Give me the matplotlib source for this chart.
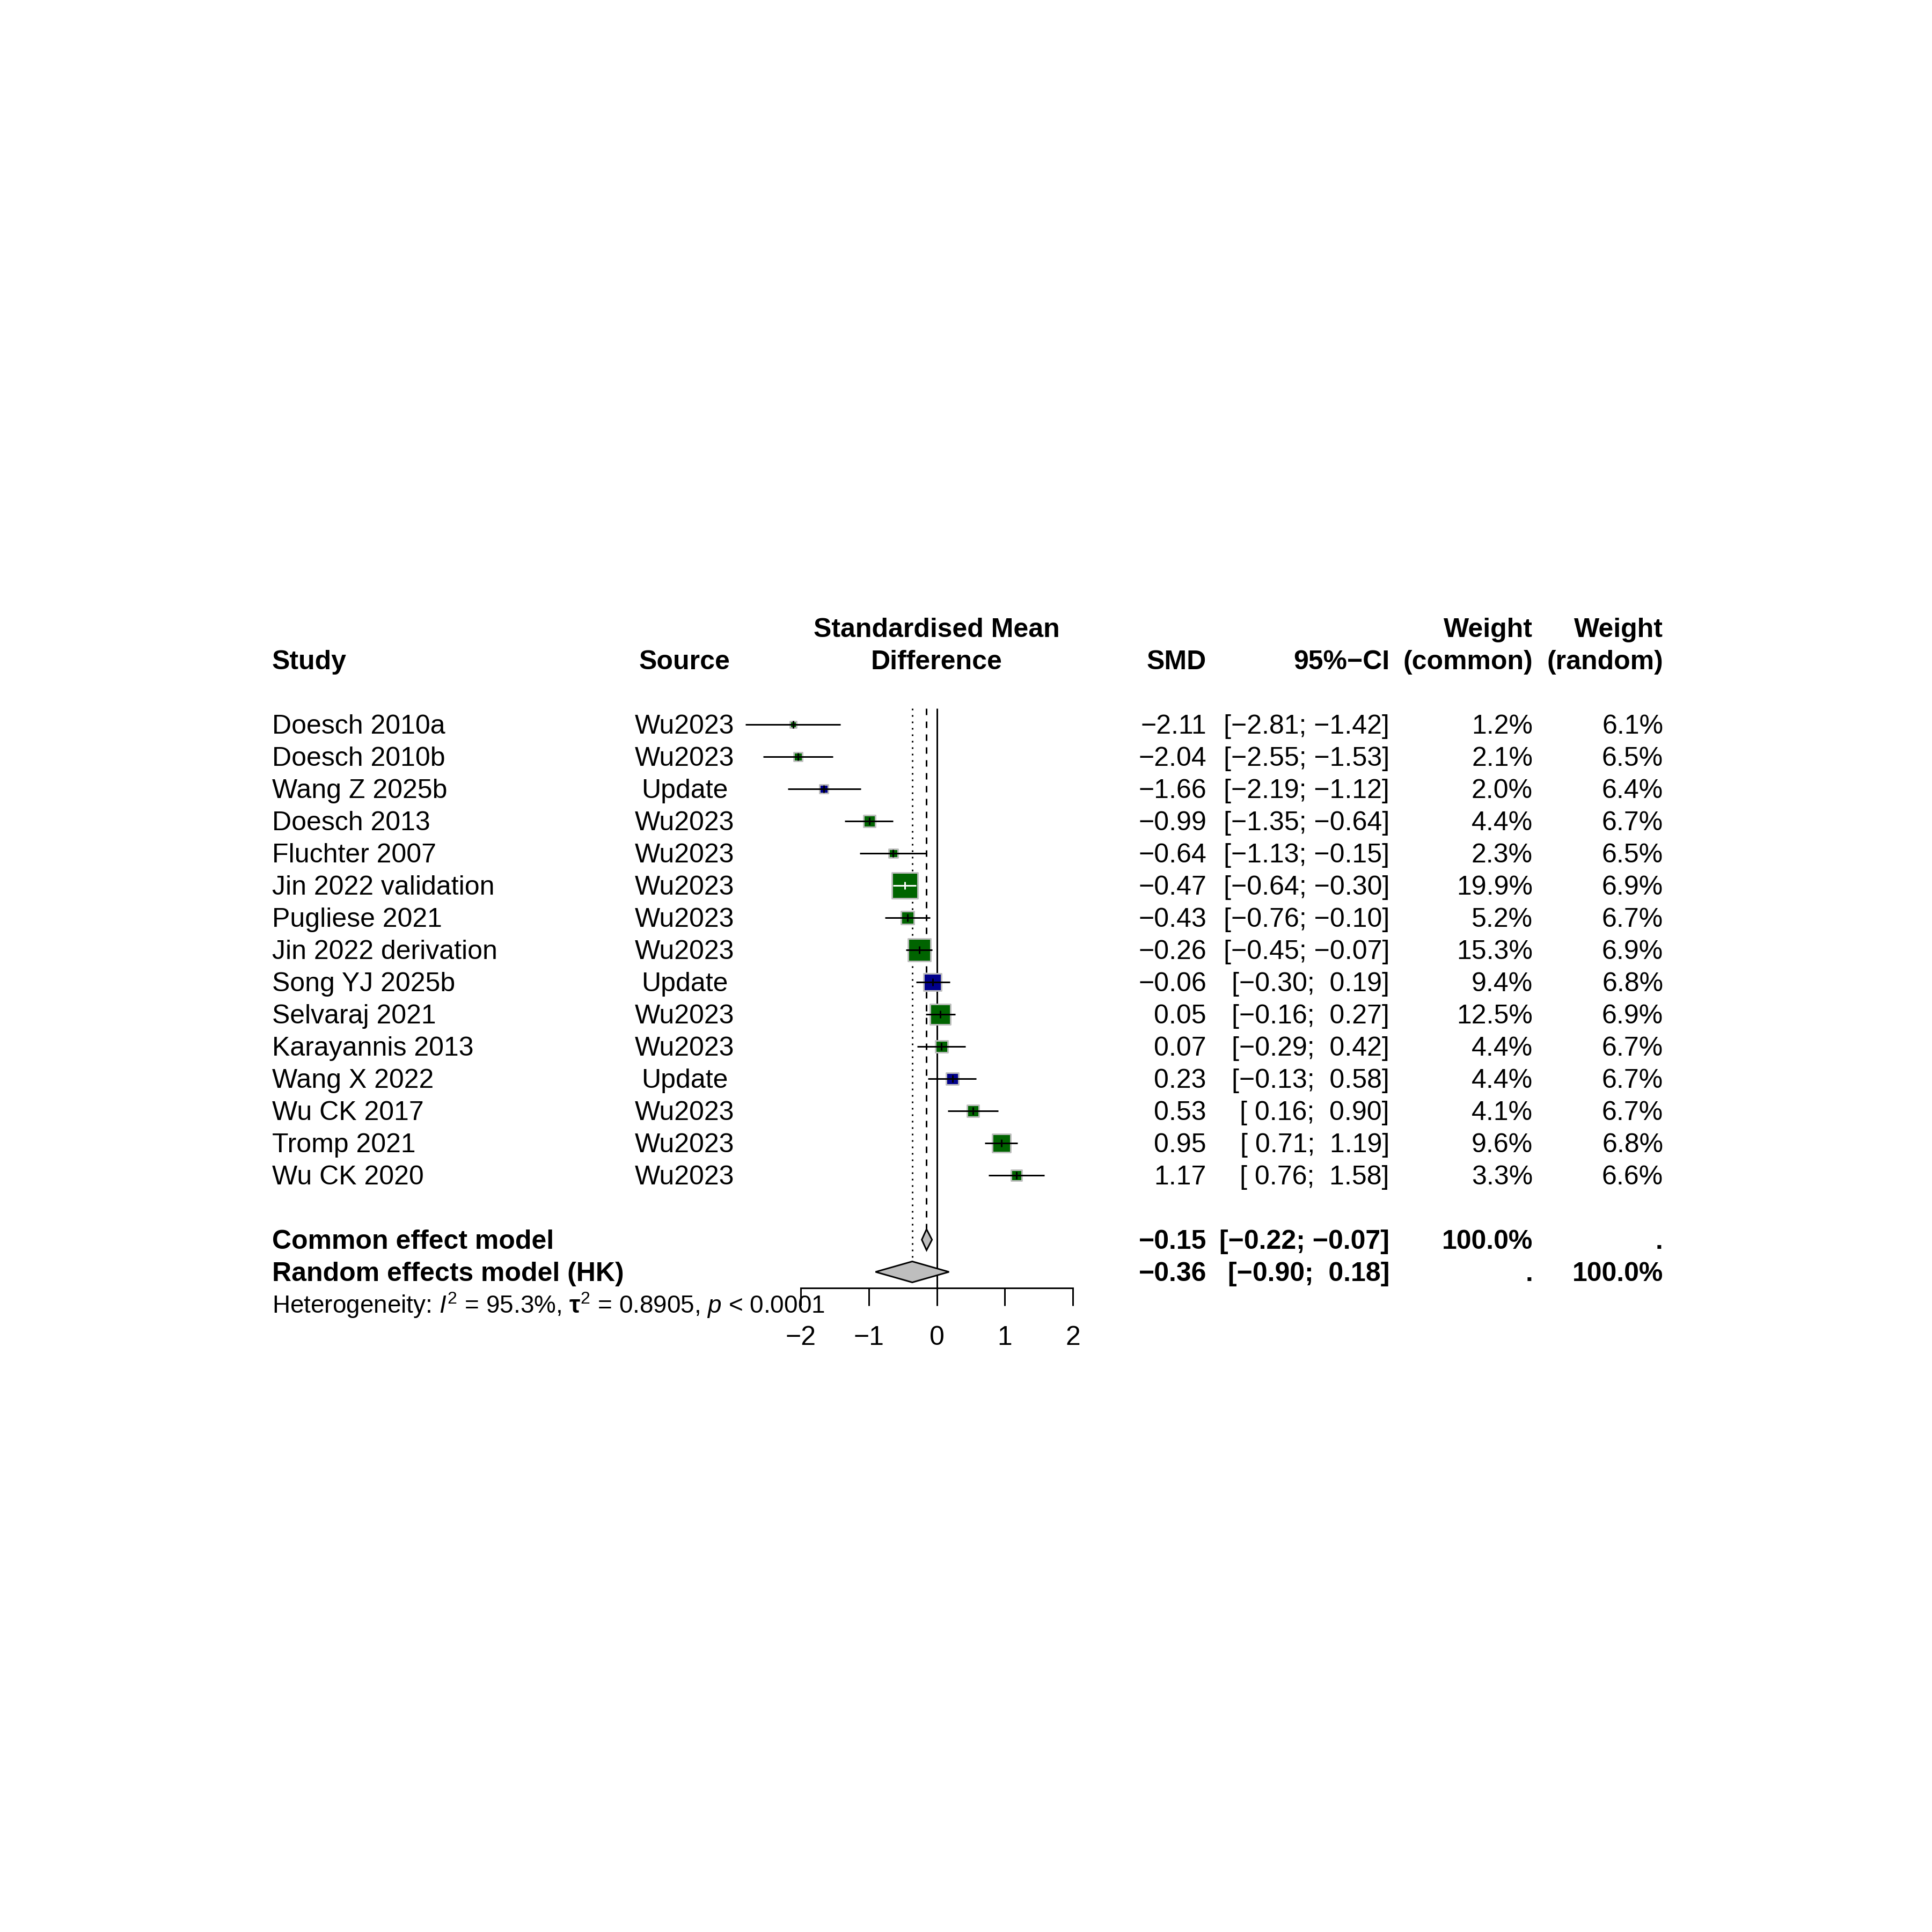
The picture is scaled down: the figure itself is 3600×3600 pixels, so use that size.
import numpy as np
import matplotlib.pyplot as plt
from matplotlib.patches import Polygon
from matplotlib.transforms import blended_transform_factory

plt.rcParams['font.family'] = ['Liberation Sans', 'DejaVu Sans']
plt.rcParams['mathtext.fontset'] = 'custom'
plt.rcParams['mathtext.rm'] = 'Liberation Sans'
plt.rcParams['mathtext.it'] = 'Liberation Sans:italic'
plt.rcParams['mathtext.bf'] = 'Liberation Sans:bold'

# study data
studies = ['Doesch 2010a', 'Doesch 2010b', 'Wang Z 2025b', 'Doesch 2013', 'Fluchter 2007',
           'Jin 2022 validation', 'Pugliese 2021', 'Jin 2022 derivation', 'Song YJ 2025b',
           'Selvaraj 2021', 'Karayannis 2013', 'Wang X 2022', 'Wu CK 2017', 'Tromp 2021',
           'Wu CK 2020']
sources = ['Wu2023', 'Wu2023', 'Update', 'Wu2023', 'Wu2023', 'Wu2023', 'Wu2023', 'Wu2023',
           'Update', 'Wu2023', 'Wu2023', 'Update', 'Wu2023', 'Wu2023', 'Wu2023']
smd = [-2.11, -2.04, -1.66, -0.99, -0.64, -0.47, -0.43, -0.26, -0.06, 0.05, 0.07, 0.23, 0.53, 0.95, 1.17]
lower = [-2.81, -2.55, -2.19, -1.35, -1.13, -0.64, -0.76, -0.45, -0.30, -0.16, -0.29, -0.13, 0.16, 0.71, 0.76]
upper = [-1.42, -1.53, -1.12, -0.64, -0.15, -0.30, -0.10, -0.07, 0.19, 0.27, 0.42, 0.58, 0.90, 1.19, 1.58]
w_common = [1.2, 2.1, 2.0, 4.4, 2.3, 19.9, 5.2, 15.3, 9.4, 12.5, 4.4, 4.4, 4.1, 9.6, 3.3]
w_random = [6.1, 6.5, 6.4, 6.7, 6.5, 6.9, 6.7, 6.9, 6.8, 6.9, 6.7, 6.7, 6.7, 6.8, 6.6]

# pooled estimates
models = ['Common effect model', 'Random effects model (HK)']
pooled_est = [-0.15, -0.36]
pooled_lo = [-0.22, -0.90]
pooled_hi = [-0.07, 0.18]
pooled_wc = ['100.0%', '.']
pooled_wr = ['.', '100.0%']

i2 = '95.3%'
tau2 = '0.8905'
pval = '< 0.0001'

tick_vals = [-2, -1, 0, 1, 2]

src_col = {'Wu2023': '#006400', 'Update': '#00008B'}


def mfmt(v):
    return f'{v:.2f}'.replace('-', '\u2212')


def cifmt(lo, hi):
    return f'[{lo:5.2f}; {hi:5.2f}]'.replace('-', '\u2212')


W = 3600.0
H = 3600.0
row0 = 1350.0    # pixel y of first study
drow = 60.0      # pixels per row
ytop, ybot = -4, 20

fig = plt.figure(figsize=(12, 12), dpi=300)
ax = fig.add_axes([1492 / W, 1 - (row0 + ybot * drow) / H, (1999 - 1492) / W, (ybot - ytop) * drow / H])
ax.set_xlim(-2, 2)
ax.set_ylim(ybot, ytop)
for s in ['top', 'left', 'right']:
    ax.spines[s].set_visible(False)
ax.patch.set_visible(False)

n = len(studies)
row_model = [n + 1, n + 2]
axis_row = n + 2.5

ax.spines['bottom'].set_position(('data', axis_row))
ax.spines['bottom'].set_bounds(-2, 2)
ax.spines['bottom'].set_linewidth(0.72)
ax.set_xticks(tick_vals)
ax.set_xticklabels([str(t).replace('-', '\u2212') for t in tick_vals])
ax.tick_params(axis='x', length=7.9, width=0.72, pad=8.8, labelsize=12)
ax.set_yticks([])

lw = 0.72
# reference lines
ax.plot([0, 0], [-0.5, axis_row], color='black', lw=lw, solid_capstyle='butt', zorder=1, clip_on=False)
dh = 0.325   # half height of diamonds in rows
ax.plot([pooled_est[0]] * 2, [-0.5, row_model[0] - dh], color='black', lw=lw, ls=(0, (4, 4)), zorder=1, clip_on=False)
ax.plot([pooled_est[1]] * 2, [-0.5, row_model[1] - dh], color='black', lw=lw, ls=(0, (1, 3)), zorder=1, clip_on=False)

# squares
px_unit = ax.transData.transform((1, 0))[0] - ax.transData.transform((0, 0))[0]
max_side_pt = 11.5
wmax = max(w_common)
rows = np.arange(n)
sides = [max_side_pt * np.sqrt(w / wmax) for w in w_common]
ax.scatter(smd, rows, s=[sd ** 2 for sd in sides], marker='s',
           c=[src_col[s] for s in sources], edgecolors='#BEBEBE', linewidths=0.7, zorder=2, clip_on=False)

for i in range(n):
    half = sides[i] / 72 * 300 / 2 / px_unit
    inside = lower[i] >= smd[i] - half and upper[i] <= smd[i] + half
    col = 'white' if inside else 'black'
    ax.plot([lower[i], upper[i]], [i, i], color=col, lw=lw, solid_capstyle='butt', zorder=3, clip_on=False)
    ax.plot([smd[i], smd[i]], [i - 0.12, i + 0.12], color=col, lw=lw, solid_capstyle='butt', zorder=3, clip_on=False)

# diamonds
for k in range(2):
    r = row_model[k]
    poly = Polygon([(pooled_lo[k], r), (pooled_est[k], r - dh), (pooled_hi[k], r), (pooled_est[k], r + dh)],
                   closed=True, facecolor='#BEBEBE', edgecolor='black', lw=0.7, zorder=3, clip_on=False)
    ax.add_patch(poly)

# text columns
tr = blended_transform_factory(fig.transFigure, ax.transData)
x_study = 507 / W
x_source = 1276 / W
x_smd = 2248 / W
x_ci = 2589 / W
x_wc = 2856 / W
x_wr = 3099 / W
off = 0.28
fs = 12

hdr = dict(transform=tr, fontsize=fs, fontweight='bold', va='baseline')
ax.text(x_study, -2 + off, 'Study', ha='left', **hdr)
ax.text(x_source, -2 + off, 'Source', ha='center', **hdr)
ax.text(0, -3 + off, 'Standardised Mean', ha='center', va='baseline', fontsize=fs, fontweight='bold')
ax.text(0, -2 + off, 'Difference', ha='center', va='baseline', fontsize=fs, fontweight='bold')
ax.text(x_smd, -2 + off, 'SMD', ha='right', **hdr)
ax.text(x_ci, -2 + off, '95%\u2212CI', ha='right', **hdr)
ax.text(x_wc, -3 + off, 'Weight', ha='right', **hdr)
ax.text(x_wc, -2 + off, '(common)', ha='right', **hdr)
ax.text(x_wr, -3 + off, 'Weight', ha='right', **hdr)
ax.text(x_wr, -2 + off, '(random)', ha='right', **hdr)

kw = dict(transform=tr, fontsize=fs, va='baseline')
for i in range(n):
    y = i + off
    ax.text(x_study, y, studies[i], ha='left', **kw)
    ax.text(x_source, y, sources[i], ha='center', **kw)
    ax.text(x_smd, y, mfmt(smd[i]), ha='right', **kw)
    ax.text(x_ci, y, cifmt(lower[i], upper[i]), ha='right', **kw)
    ax.text(x_wc, y, f'{w_common[i]:.1f}%', ha='right', **kw)
    ax.text(x_wr, y, f'{w_random[i]:.1f}%', ha='right', **kw)

for k in range(2):
    y = row_model[k] + off
    ax.text(x_study, y, models[k], ha='left', fontweight='bold', **kw)
    ax.text(x_smd, y, mfmt(pooled_est[k]), ha='right', fontweight='bold', **kw)
    ax.text(x_ci, y, cifmt(pooled_lo[k], pooled_hi[k]), ha='right', fontweight='bold', **kw)
    ax.text(x_wc, y, pooled_wc[k], ha='right', fontweight='bold', **kw)
    ax.text(x_wr, y, pooled_wr[k], ha='right', fontweight='bold', **kw)

het = (r'Heterogeneity: $\mathit{I}^2$ = ' + i2 + r', $\mathbf{\tau}^2$ = ' + tau2
       + r', $\mathit{p}$ ' + pval)
ax.text(x_study, n + 3 + off, het, transform=tr, fontsize=11, ha='left', va='baseline')

fig.savefig('out.png', dpi=300)
